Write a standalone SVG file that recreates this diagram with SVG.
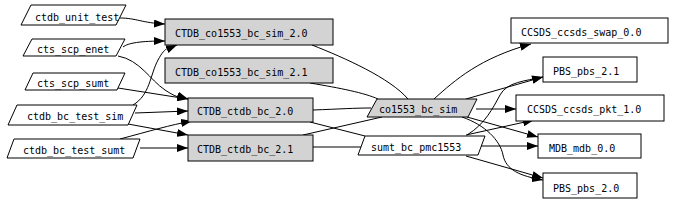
<svg xmlns="http://www.w3.org/2000/svg" width="674" height="202" viewBox="0 0 674 202">
<defs>
<style>
.n{fill:#ffffff;stroke:#000000;stroke-width:1}
.g{fill:#d3d3d3;stroke:#000000;stroke-width:1}
.t{font-family:"DejaVu Sans Mono","Liberation Mono",monospace;font-size:10px;fill:#000000}
.e{fill:none;stroke:#000000;stroke-width:1}
.a{marker-end:url(#arr)}
</style>
<marker id="arr" viewBox="0 0 11 8" refX="11" refY="4" markerWidth="11" markerHeight="8" markerUnits="userSpaceOnUse" orient="auto">
<path d="M0,0 L11,4 L0,8 z" fill="#000000"/>
</marker>
</defs>
<rect x="0" y="0" width="674" height="202" fill="#ffffff"/>
<g id="edges">
<path class="e a" d="M120,18 C136,18 142,23 165,24"/>
<path class="e a" d="M123,47 C128,43 140,41 165,41"/>
<path class="e a" d="M118,56 C140,60 150,80 165,90 S182,97 188,99"/>
<path class="e a" d="M118,88 L188,99"/>
<path class="e a" d="M133,105 C150,95 150,75 158,60 S170,48 177,45"/>
<path class="e a" d="M135,113 L188,111"/>
<path class="e a" d="M128,124 L188,135"/>
<path class="e a" d="M120,139 C150,131 170,125 192,121"/>
<path class="e a" d="M140,148 L188,148"/>
<path class="e" d="M312,45 C345,58 390,78 408,99"/>
<path class="e" d="M310,83 C340,88 365,93 378,99"/>
<path class="e" d="M313,110 C340,109 355,108 371,108"/>
<path class="e" d="M310,122 L365,136"/>
<path class="e" d="M303,135 L382,117"/>
<path class="e" d="M313,147 L362,147"/>
<path class="e a" d="M434,99 C455,80 480,58 531,44"/>
<path class="e a" d="M466,99 L543,77"/>
<path class="e a" d="M467,135 C485,124 493,108 500,95 S525,81 543,77"/>
<path class="e a" d="M476,109 L516,109"/>
<path class="e a" d="M467,117 L538,137"/>
<path class="e a" d="M466,135 L534,120"/>
<path class="e a" d="M480,146 L538,146"/>
<path class="e a" d="M466,156 L543,178"/>
<path class="e a" d="M462,117 C485,125 500,140 503,155 S520,176 543,180"/>
</g>
<g id="ctdb_unit_test">
<polygon class="n" points="21,25 31,5 126,5 116,25"/>
<text class="t" x="35" y="21">ctdb_unit_test</text>
</g>
<g id="cts_scp_enet">
<polygon class="n" points="23,56 32,39 125,39 116,56"/>
<text class="t" x="37" y="53">cts_scp_enet</text>
</g>
<g id="cts_scp_sumt">
<polygon class="n" points="25,90 33,73 125,73 117,90"/>
<text class="t" x="37" y="87">cts_scp_sumt</text>
</g>
<g id="ctdb_bc_test_sim">
<polygon class="n" points="8,125 17,105 137,105 128,125"/>
<text class="t" x="27" y="120">ctdb_bc_test_sim</text>
</g>
<g id="ctdb_bc_test_sumt">
<polygon class="n" points="7,158 14,139 140,139 133,158"/>
<text class="t" x="23" y="154">ctdb_bc_test_sumt</text>
</g>
<g id="CTDB_co1553_bc_sim_2.0">
<rect class="g" x="165" y="19" width="168" height="26"/>
<text class="t" x="175" y="37">CTDB_co1553_bc_sim_2.0</text>
</g>
<g id="CTDB_co1553_bc_sim_2.1">
<rect class="g" x="165" y="58" width="168" height="25"/>
<text class="t" x="175" y="76">CTDB_co1553_bc_sim_2.1</text>
</g>
<g id="CTDB_ctdb_bc_2.0">
<rect class="g" x="188" y="98" width="125" height="24"/>
<text class="t" x="197" y="115">CTDB_ctdb_bc_2.0</text>
</g>
<g id="CTDB_ctdb_bc_2.1">
<rect class="g" x="188" y="135" width="125" height="26"/>
<text class="t" x="197" y="153">CTDB_ctdb_bc_2.1</text>
</g>
<g id="co1553_bc_sim">
<polygon class="g" points="367,117 377,99 477,99 468,117"/>
<text class="t" x="379" y="113">co1553_bc_sim</text>
</g>
<g id="sumt_bc_pmc1553">
<polygon class="n" points="358,155 365,136 485,136 478,155"/>
<text class="t" x="371" y="151">sumt_bc_pmc1553</text>
</g>
<g id="CCSDS_ccsds_swap_0.0">
<rect class="n" x="511" y="18" width="157" height="25"/>
<text class="t" x="521" y="36">CCSDS_ccsds_swap_0.0</text>
</g>
<g id="PBS_pbs_2.1">
<rect class="n" x="543" y="57" width="94" height="25"/>
<text class="t" x="553" y="75">PBS_pbs_2.1</text>
</g>
<g id="CCSDS_ccsds_pkt_1.0">
<rect class="n" x="516" y="95" width="148" height="26"/>
<text class="t" x="527" y="113">CCSDS_ccsds_pkt_1.0</text>
</g>
<g id="MDB_mdb_0.0">
<rect class="n" x="538" y="134" width="103" height="24"/>
<text class="t" x="549" y="152">MDB_mdb_0.0</text>
</g>
<g id="PBS_pbs_2.0">
<rect class="n" x="543" y="173" width="94" height="25"/>
<text class="t" x="553" y="192">PBS_pbs_2.0</text>
</g>
</svg>
